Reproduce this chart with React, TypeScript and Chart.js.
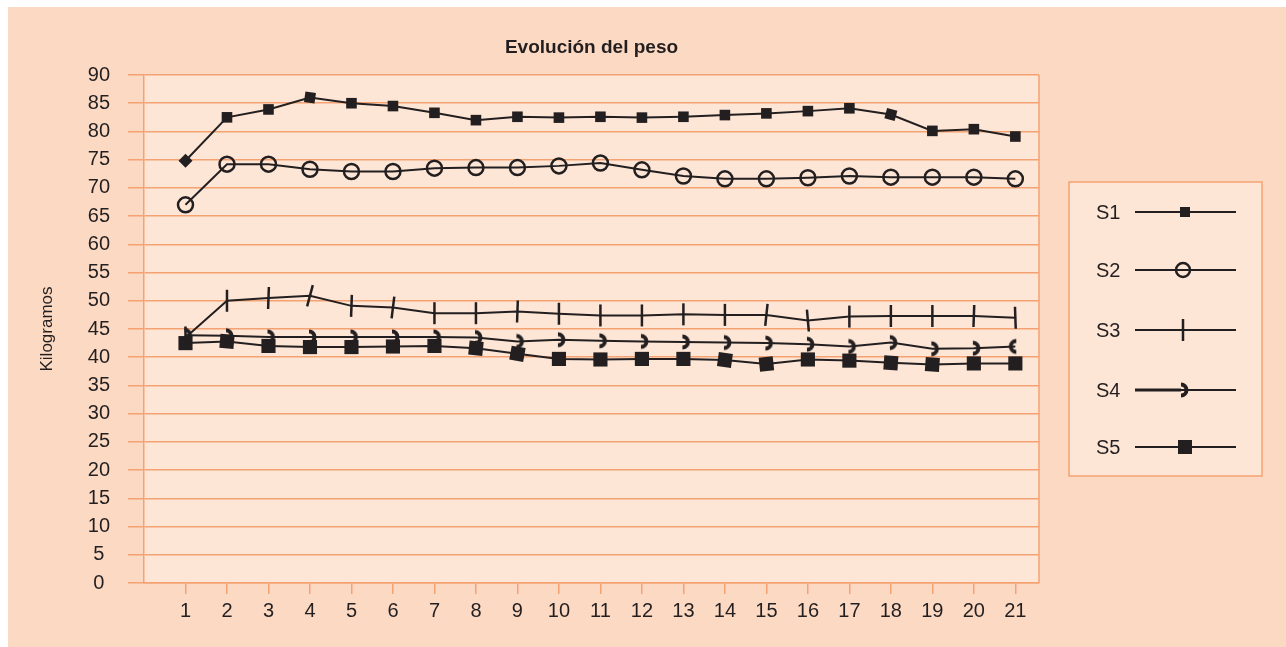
import React, { useEffect, useRef } from 'react';
import { Chart, registerables } from 'chart.js';

Chart.register(...registerables);

const days = [1, 2, 3, 4, 5, 6, 7, 8, 9, 10, 11, 12, 13, 14, 15, 16, 17, 18, 19, 20, 21];
const seriesNames = ['S1', 'S2', 'S3', 'S4', 'S5'];
const s1 = [74.8, 82.5, 83.9, 86.0, 85.0, 84.5, 83.3, 82.0, 82.6, 82.45, 82.6, 82.45, 82.6, 82.9, 83.2, 83.6, 84.1, 83.0, 80.1, 80.4, 79.1];
const s2 = [67.0, 74.2, 74.2, 73.3, 72.9, 72.9, 73.5, 73.6, 73.6, 73.9, 74.4, 73.2, 72.1, 71.6, 71.6, 71.8, 72.1, 71.9, 71.9, 71.9, 71.6];
const s3 = [43.5, 50.0, 50.5, 50.9, 49.1, 48.8, 47.8, 47.8, 48.1, 47.7, 47.4, 47.4, 47.6, 47.5, 47.5, 46.5, 47.2, 47.3, 47.3, 47.3, 47.0];
const s4 = [43.9, 43.8, 43.6, 43.6, 43.6, 43.6, 43.6, 43.5, 42.8, 43.1, 42.9, 42.8, 42.7, 42.6, 42.5, 42.3, 41.9, 42.6, 41.5, 41.6, 41.9];
const s5 = [42.5, 42.8, 42.0, 41.8, 41.8, 41.9, 42.0, 41.6, 40.6, 39.7, 39.6, 39.7, 39.7, 39.5, 38.8, 39.6, 39.4, 39.0, 38.7, 38.9, 38.9];
const yMin = 0;
const yMax = 90;
const yStep = 5;
const titleText = 'Evolución del peso';
const yTitleText = 'Kilogramos';

const OUTER = '#FBD9C3';
const PLOT = '#FDE6D6';
const ORANGE = '#F5A273';
const INK = '#231F20';
const FONT = '"Liberation Sans", Arial, sans-serif';

function makeHook(): HTMLCanvasElement {
  const c = document.createElement('canvas');
  c.width = 20;
  c.height = 20;
  const g = c.getContext('2d')!;
  g.strokeStyle = INK;
  g.lineWidth = 4;
  g.lineCap = 'butt';
  g.beginPath();
  g.arc(9, 10, 5.5, -Math.PI / 2, Math.PI / 2);
  g.stroke();
  return c;
}

export default function App() {
  const ref = useRef<HTMLCanvasElement>(null);

  useEffect(() => {
    const hook = makeHook();
    const toXY = (arr: number[]) => days.map((d, i) => ({ x: d, y: arr[i] }));

    const deco = {
      id: 'deco',
      beforeDraw(chart: any) {
        const { ctx, chartArea: a, width, height } = chart;
        ctx.save();
        ctx.fillStyle = OUTER;
        ctx.fillRect(0, 0, width, height);
        ctx.fillStyle = PLOT;
        ctx.fillRect(a.left, a.top, a.right - a.left, a.bottom - a.top);
        ctx.strokeStyle = ORANGE;
        ctx.lineWidth = 1.5;
        ctx.beginPath();
        ctx.moveTo(a.right, a.top);
        ctx.lineTo(a.right, a.bottom);
        ctx.stroke();
        ctx.restore();
      },
      afterDraw(chart: any) {
        const { ctx, chartArea: a } = chart;
        ctx.save();
        ctx.fillStyle = INK;
        ctx.font = `bold 19px ${FONT}`;
        ctx.textAlign = 'center';
        ctx.textBaseline = 'alphabetic';
        ctx.fillText(titleText, (a.left + a.right) / 2, 46);

        ctx.save();
        ctx.translate(44, 322);
        ctx.rotate(-Math.PI / 2);
        ctx.font = `17px ${FONT}`;
        ctx.textAlign = 'center';
        ctx.fillText(yTitleText, 0, 0);
        ctx.restore();

        // legend box
        const bx = 1061, by = 175, bw = 193, bh = 294;
        ctx.fillStyle = PLOT;
        ctx.fillRect(bx, by, bw, bh);
        ctx.strokeStyle = ORANGE;
        ctx.lineWidth = 1.5;
        ctx.strokeRect(bx, by, bw, bh);
        const rows = [205, 263, 323, 383, 440];
        chart.data.datasets.forEach((ds: any, i: number) => {
          const cy = rows[i];
          ctx.fillStyle = INK;
          ctx.font = `20px ${FONT}`;
          ctx.textAlign = 'left';
          ctx.textBaseline = 'alphabetic';
          ctx.fillText(ds.label, 1088, cy + 7);
          ctx.strokeStyle = INK;
          ctx.lineWidth = 2;
          ctx.beginPath();
          ctx.moveTo(1127, cy);
          ctx.lineTo(1228, cy);
          ctx.stroke();
          const mx = 1177;
          if (i === 0) {
            ctx.fillRect(mx - 5, cy - 5, 10, 10);
          } else if (i === 1) {
            ctx.lineWidth = 2.5;
            ctx.beginPath();
            ctx.arc(mx - 2, cy, 7, 0, Math.PI * 2);
            ctx.stroke();
          } else if (i === 2) {
            ctx.lineWidth = 2.5;
            ctx.beginPath();
            ctx.moveTo(mx - 2, cy - 11);
            ctx.lineTo(mx - 2, cy + 11);
            ctx.stroke();
          } else if (i === 3) {
            ctx.lineWidth = 3;
            ctx.beginPath();
            ctx.moveTo(1127, cy);
            ctx.lineTo(mx - 4, cy);
            ctx.stroke();
            ctx.drawImage(hook, mx - 13, cy - 10);
          } else {
            ctx.fillRect(mx - 7, cy - 7, 14, 14);
          }
        });
        ctx.restore();
      },
    };

    const common = {
      borderColor: INK,
      borderWidth: 2,
      pointBorderColor: INK,
      pointBackgroundColor: INK,
      tension: 0,
      fill: false,
    };

    const chart = new Chart(ref.current!, {
      type: 'line',
      data: {
        datasets: [
          {
            ...common,
            label: seriesNames[0],
            data: toXY(s1),
            pointStyle: days.map((_, i) => (i === 0 ? 'rectRot' : 'rect')) as any,
            pointRadius: days.map((_, i) => (i === 0 ? 7 : 7.5)),
            pointRotation: days.map((_, i) => (i === 17 ? 15 : i === 3 ? 8 : 0)),
            pointBorderWidth: 0,
          },
          {
            ...common,
            label: seriesNames[1],
            data: toXY(s2),
            pointStyle: 'circle',
            pointRadius: 7.5,
            pointBorderWidth: 2.5,
            pointBackgroundColor: 'rgba(0,0,0,0)',
          },
          {
            ...common,
            label: seriesNames[2],
            data: toXY(s3),
            pointStyle: 'line',
            pointRadius: 11,
            pointBorderWidth: 2.5,
            pointRotation: [90, 90, 92, 105, 92, 97, 90, 90, 92, 90, 90, 90, 90, 90, 96, 85, 90, 90, 90, 92, 88],
          },
          {
            ...common,
            label: seriesNames[3],
            data: toXY(s4),
            pointStyle: hook as any,
            pointRadius: 8,
            pointRotation: days.map((_, i) => (i === 20 ? 180 : 0)),
          },
          {
            ...common,
            label: seriesNames[4],
            data: toXY(s5),
            pointStyle: 'rect',
            pointRadius: 10,
            pointBorderWidth: 0,
            pointRotation: [0, 5, 0, 0, 0, 0, 0, 6, 10, 0, 0, 0, 0, 8, -6, 0, 0, 4, 4, 0, 0],
          },
        ],
      },
      options: {
        responsive: false,
        animation: false,
        events: [],
        layout: { padding: { left: 0, right: 247, top: 68, bottom: 0 } },
        plugins: {
          legend: { display: false },
          title: { display: false },
          tooltip: { enabled: false },
        },
        scales: {
          x: {
            type: 'linear',
            min: 0,
            max: 21.57,
            afterBuildTicks: (s: any) => {
              s.ticks = days.map((v) => ({ value: v }));
            },
            afterFit: (s: any) => {
              s.height = 64;
            },
            grid: {
              drawOnChartArea: false,
              drawTicks: true,
              tickLength: 11,
              color: ORANGE,
              lineWidth: 1.5,
            },
            border: { color: ORANGE, width: 1.5 },
            ticks: {
              color: INK,
              font: { family: FONT, size: 20 },
              padding: 5,
              autoSkip: false,
              maxRotation: 0,
              callback: (v: any) => String(v),
            },
          },
          y: {
            min: yMin,
            max: yMax,
            afterFit: (s: any) => {
              s.width = 136;
            },
            grid: { color: ORANGE, lineWidth: 1.5, tickLength: 16 },
            border: { color: ORANGE, width: 1.5 },
            ticks: {
              stepSize: yStep,
              crossAlign: 'center',
              padding: 18,
              color: INK,
              font: { family: FONT, size: 20 },
            },
          },
        },
      },
      plugins: [deco],
    } as any);

    return () => chart.destroy();
  }, []);

  return (
    <div style={{ position: 'fixed', left: 8, top: 7, width: 1278, height: 640 }}>
      <canvas ref={ref} width={1278} height={640} style={{ display: 'block' }} />
    </div>
  );
}
